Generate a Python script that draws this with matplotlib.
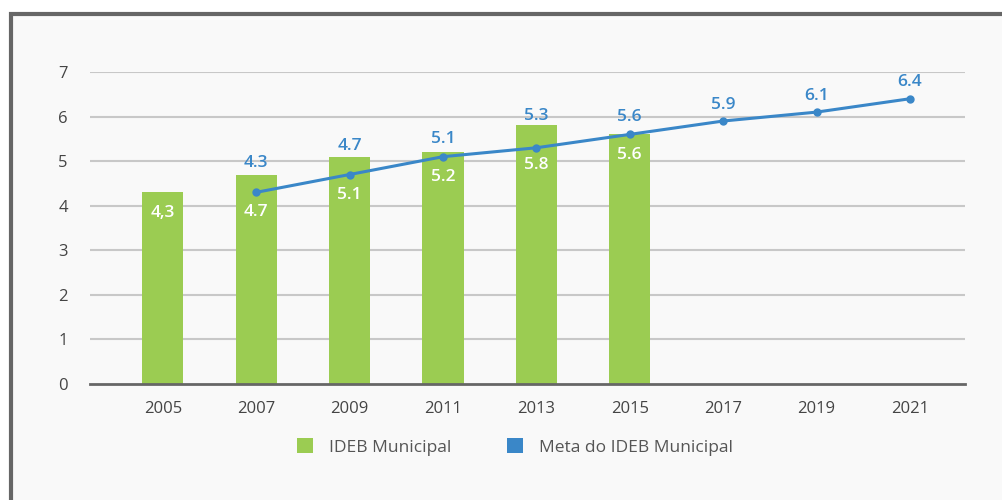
import numpy as np
import matplotlib.pyplot as plt
from matplotlib.patches import Patch

# data
years = ['2005', '2007', '2009', '2011', '2013', '2015', '2017', '2019', '2021']
ideb = [4.3, 4.7, 5.1, 5.2, 5.8, 5.6]
ideb_labels = ['4,3', '4.7', '5.1', '5.2', '5.8', '5.6']
meta_years = ['2007', '2009', '2011', '2013', '2015', '2017', '2019', '2021']
meta = [4.3, 4.7, 5.1, 5.3, 5.6, 5.9, 6.1, 6.4]
meta_labels = ['4.3', '4.7', '5.1', '5.3', '5.6', '5.9', '6.1', '6.4']

# label offsets (pixels) - hand placed like the original
bar_off = [-21, -37, -38, -25, -40, -21]
meta_off = [29, 29, 18, 32, 17, 16, 16, 17]

green = '#9bcc52'
blue = '#3a87c8'
font = 'Open Sans'
plt.rcParams['font.family'] = [font, 'DejaVu Sans']

fig = plt.figure(figsize=(10.03, 5.0), dpi=100)
fig.patch.set_facecolor('white')

# panel background + frame
frame = plt.Rectangle((10.5 / 1003, -0.1), 1.2, 1 - 13.5 / 500 + 0.1,
                      transform=fig.transFigure, facecolor='#f9f9f9',
                      edgecolor='#666666', linewidth=3, zorder=-10)
fig.patches.append(frame)

ax = fig.add_axes([90 / 1003, 116 / 500, 875 / 1003, 312 / 500])
ax.set_facecolor('none')

x = np.arange(len(years))
xm = np.array([years.index(y) for y in meta_years])

ax.set_xlim(-0.78, 8.59)
ax.set_ylim(0, 7)
for v in range(1, 8):
    ax.axhline(v, color='#c8c8c8', lw=1.5, zorder=1)

ax.bar(x[:len(ideb)], ideb, width=0.44, color=green, zorder=2)
ax.plot(xm, meta, color=blue, lw=2.2, marker='o', ms=5, zorder=3)

for xi, v, lab, off in zip(x, ideb, ideb_labels, bar_off):
    ax.annotate(lab, (xi, v), xytext=(0, off), textcoords='offset pixels',
                ha='center', va='center', color='white', fontsize=12.5,
                fontweight='semibold', zorder=4)
for xi, v, lab, off in zip(xm, meta, meta_labels, meta_off):
    ax.annotate(lab, (xi, v), xytext=(0, off), textcoords='offset pixels',
                ha='center', va='center', color=blue, fontsize=12.5,
                fontweight='semibold', zorder=4, annotation_clip=False)

for s in ['top', 'right', 'left']:
    ax.spines[s].set_visible(False)
ax.spines['bottom'].set_color('#666666')
ax.spines['bottom'].set_linewidth(2)
ax.spines['bottom'].set_zorder(5)

ax.set_xticks(x)
ax.set_xticklabels(years)
ax.set_yticks(range(0, 8))
ax.tick_params(axis='both', length=0, labelsize=12, labelcolor='#444444')
ax.tick_params(axis='x', pad=12)
ax.tick_params(axis='y', pad=16)

handles = [Patch(facecolor=green, edgecolor='none'),
           Patch(facecolor=blue, edgecolor='none')]
fig.legend(handles, ['IDEB Municipal', 'Meta do IDEB Municipal'],
           loc='center', bbox_to_anchor=(515 / 1003, 1 - 447 / 500), ncol=2,
           frameon=False, fontsize=12.5, labelcolor='#555555',
           handlelength=0.95, handleheight=0.95, handletextpad=0.9,
           columnspacing=3.2)

fig.savefig('out.png', dpi=100)
